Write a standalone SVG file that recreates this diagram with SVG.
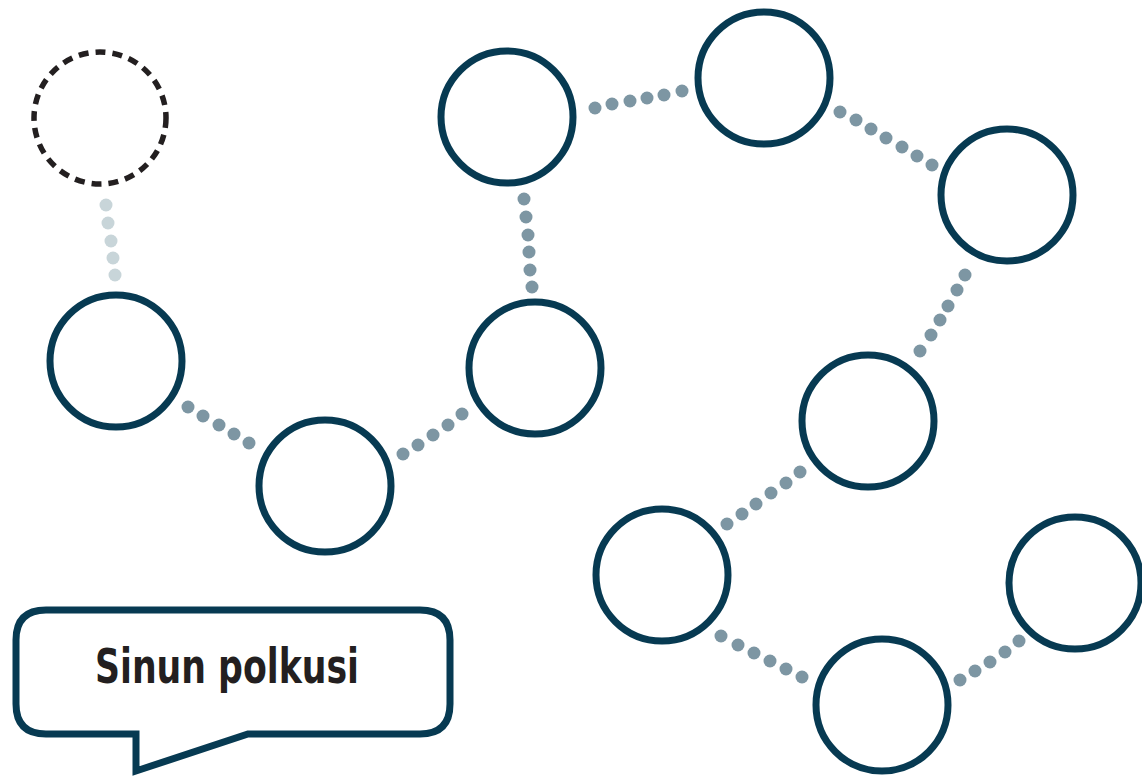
<svg xmlns="http://www.w3.org/2000/svg" width="1142" height="778" viewBox="0 0 1142 778">
  <style>
    .node { fill: #ffffff; stroke: #073a52; stroke-width: 7; }
    .ghost { fill: none; stroke: #231f20; stroke-width: 5.5; stroke-dasharray: 10 7; }
    .dot { fill: #7d96a3; }
    .dot-light { fill: #c8d5d9; }
    .bubble { fill: #ffffff; stroke: #073a52; stroke-width: 7; stroke-linejoin: miter; }
    .label { font-family: "DejaVu Sans Condensed", "DejaVu Sans", sans-serif; font-weight: bold; font-size: 48px; fill: #231f20; }
  </style>
  <rect width="1142" height="778" fill="#ffffff"/>

  <!-- dotted trail between the stops -->
  <g id="connectors">
    <g class="dot-light">
      <circle cx="106" cy="205" r="6.5"/><circle cx="108" cy="223" r="6.5"/><circle cx="111" cy="241" r="6.5"/><circle cx="113" cy="258" r="6.5"/><circle cx="115" cy="275" r="6.5"/>
    </g>
    <g class="dot">
      <circle cx="188" cy="407" r="6.5"/><circle cx="203" cy="416" r="6.5"/><circle cx="219" cy="425" r="6.5"/><circle cx="234" cy="434" r="6.5"/><circle cx="249" cy="443" r="6.5"/>
      <circle cx="403" cy="454" r="6.5"/><circle cx="418" cy="445" r="6.5"/><circle cx="433" cy="435" r="6.5"/><circle cx="448" cy="425" r="6.5"/><circle cx="462" cy="414" r="6.5"/>
      <circle cx="532" cy="287" r="6.5"/><circle cx="530" cy="270" r="6.5"/><circle cx="529" cy="252" r="6.5"/><circle cx="528" cy="235" r="6.5"/><circle cx="526" cy="217" r="6.5"/><circle cx="524" cy="199" r="6.5"/>
      <circle cx="595" cy="108" r="6.5"/><circle cx="612" cy="104" r="6.5"/><circle cx="630" cy="101" r="6.5"/><circle cx="647" cy="98" r="6.5"/><circle cx="664" cy="95" r="6.5"/><circle cx="682" cy="91" r="6.5"/>
      <circle cx="840" cy="112" r="6.5"/><circle cx="856" cy="120" r="6.5"/><circle cx="871" cy="129" r="6.5"/><circle cx="886" cy="138" r="6.5"/><circle cx="902" cy="147" r="6.5"/><circle cx="917" cy="156" r="6.5"/><circle cx="932" cy="165" r="6.5"/>
      <circle cx="965" cy="275" r="6.5"/><circle cx="957" cy="290" r="6.5"/><circle cx="948" cy="306" r="6.5"/><circle cx="940" cy="320" r="6.5"/><circle cx="931" cy="335" r="6.5"/><circle cx="920" cy="351" r="6.5"/>
      <circle cx="800" cy="472" r="6.5"/><circle cx="786" cy="483" r="6.5"/><circle cx="771" cy="493" r="6.5"/><circle cx="756" cy="504" r="6.5"/><circle cx="742" cy="514" r="6.5"/><circle cx="727" cy="524" r="6.5"/>
      <circle cx="721" cy="636" r="6.5"/><circle cx="738" cy="645" r="6.5"/><circle cx="754" cy="653" r="6.5"/><circle cx="770" cy="661" r="6.5"/><circle cx="786" cy="669" r="6.5"/><circle cx="802" cy="677" r="6.5"/>
      <circle cx="960" cy="680" r="6.5"/><circle cx="975" cy="671" r="6.5"/><circle cx="990" cy="662" r="6.5"/><circle cx="1005" cy="652" r="6.5"/><circle cx="1019" cy="641" r="6.5"/>
    </g>
  </g>

  <!-- stops along the path -->
  <g id="stop-start"><circle class="ghost" cx="100" cy="118" r="66"/></g>
  <g id="stop-1"><circle class="node" cx="116" cy="361" r="66"/></g>
  <g id="stop-2"><circle class="node" cx="325" cy="486" r="66"/></g>
  <g id="stop-3"><circle class="node" cx="535" cy="368" r="66"/></g>
  <g id="stop-4"><circle class="node" cx="507" cy="117" r="66"/></g>
  <g id="stop-5"><circle class="node" cx="764" cy="78" r="66"/></g>
  <g id="stop-6"><circle class="node" cx="1007" cy="195" r="66"/></g>
  <g id="stop-7"><circle class="node" cx="868" cy="421" r="66"/></g>
  <g id="stop-8"><circle class="node" cx="662" cy="575" r="66"/></g>
  <g id="stop-9"><circle class="node" cx="882" cy="705" r="66"/></g>
  <g id="stop-10"><circle class="node" cx="1075" cy="583" r="66"/></g>

  <!-- speech bubble caption -->
  <g id="caption">
    <path class="bubble" d="M 46 610 H 420 Q 450 610 450 640 V 704 Q 450 734 420 734 H 248 L 136 771 V 734 H 46 Q 16 734 16 704 V 640 Q 16 610 46 610 Z"/>
    <text class="label" x="227" y="683" text-anchor="middle" textLength="264" lengthAdjust="spacingAndGlyphs">Sinun polkusi</text>
  </g>
</svg>
